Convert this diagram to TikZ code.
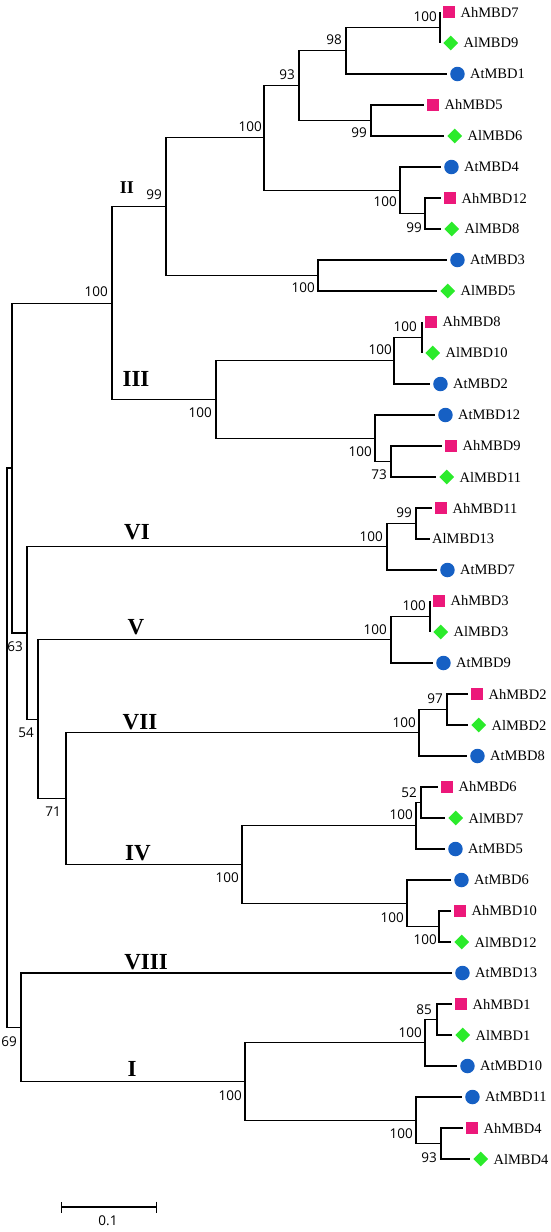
\documentclass[tikz,border=0pt]{standalone}
\usepackage{fontspec}
\setmainfont{Liberation Serif}
\newfontfamily\bootfont{Open Sans}
\usepackage{tikz}
\usepackage{xcolor}
\usetikzlibrary{shapes.geometric,positioning,arrows.meta}
\definecolor{ahpink}{RGB}{236,24,122}
\definecolor{algreen}{RGB}{43,235,43}
\definecolor{atblue}{RGB}{22,96,196}

\begin{document}
\begin{tikzpicture}[x=1pt,y=-1pt,
  branch/.style={line width=1.1pt},
  ahmark/.style={fill=ahpink, rectangle, inner sep=0pt, minimum size=12pt},
  almark/.style={fill=algreen, diamond, aspect=1, inner sep=0pt, minimum size=15pt},
  atmark/.style={fill=atblue, circle, inner sep=0pt, minimum size=14.5pt},
  tipname/.style={inner sep=0pt, font=\fontsize{14.5}{17}\selectfont},
  boot/.style={anchor=east, inner sep=0pt, font=\bootfont\fontsize{13.5}{15}\selectfont},
  clade/.style={inner sep=0pt, font=\bfseries\fontsize{23}{26}\selectfont}]
  \useasboundingbox (0,0) rectangle (550,1232);

  % Leaves: tip, marker, name
  \foreach \n/\x/\y/\m in {AhMBD7/440/12/ahmark, AlMBD9/440/43/almark, AtMBD1/447/74/atmark,
      AhMBD5/424/105/ahmark, AlMBD6/444/136/almark, AtMBD4/441/167/atmark, AhMBD12/441/198/ahmark,
      AlMBD8/441/229/almark, AtMBD3/447/260/atmark, AlMBD5/437/291/almark, AhMBD8/422/322/ahmark,
      AlMBD10/422/353/almark, AtMBD2/430/384/atmark, AtMBD12/435/415/atmark, AhMBD9/442/446/ahmark,
      AlMBD11/436/477/almark, AhMBD11/432/508/ahmark, AtMBD7/437/570/atmark, AhMBD3/430/601/ahmark,
      AlMBD3/430/632/almark, AtMBD9/433/663/atmark, AhMBD2/468/694/ahmark, AlMBD2/468/725/almark,
      AtMBD8/467/756/atmark, AhMBD6/438/787/ahmark, AlMBD7/445/818/almark, AtMBD5/445/849/atmark,
      AtMBD6/451/880/atmark, AhMBD10/451/911/ahmark, AlMBD12/451/942/almark, AtMBD13/452/973/atmark,
      AhMBD1/452/1004/ahmark, AlMBD1/452/1035/almark, AtMBD10/457/1066/atmark, AtMBD11/462/1097/atmark,
      AhMBD4/463/1128/ahmark, AlMBD4/470/1159/almark}{
    \coordinate (\n) at (\x,\y);
    \node[\m, right=3pt of \n] (\n-m) {};
    \node[tipname, right=5pt of \n-m] (\n-t) {\n};
  }
  \coordinate (AlMBD13) at (430,539);
  \node[tipname, right=2pt of AlMBD13] (AlMBD13-t) {AlMBD13};

  % Internal nodes
  \coordinate (a1) at (440,27.5);
  \coordinate (a2) at (346,50.75);
  \coordinate (a3) at (371,120.5);
  \coordinate (a4) at (299,85.6);
  \coordinate (a5) at (425,213.5);
  \coordinate (a6) at (400,190.25);
  \coordinate (a7) at (264,137.9);
  \coordinate (a8) at (318,275.5);
  \coordinate (a9) at (166,206.7);
  \coordinate (b1) at (422,337.5);
  \coordinate (b2) at (394,360.75);
  \coordinate (b3) at (391,461.5);
  \coordinate (b4) at (375,438.25);
  \coordinate (b5) at (216,399.5);
  \coordinate (b6) at (112,303.1);
  \coordinate (c1) at (416,523.5);
  \coordinate (c2) at (387,546.75);
  \coordinate (d1) at (430,616.5);
  \coordinate (d2) at (391,639.75);
  \coordinate (e1) at (447,709.5);
  \coordinate (e2) at (419,732.75);
  \coordinate (f1) at (421,802.5);
  \coordinate (f2) at (416,825.75);
  \coordinate (f3) at (439,926.5);
  \coordinate (f4) at (407,903.25);
  \coordinate (f5) at (242,864.5);
  \coordinate (g71) at (66,798.6);
  \coordinate (g54) at (38,719.2);
  \coordinate (g63) at (27,633);
  \coordinate (g12) at (12,468);
  \coordinate (h1) at (437,1019.5);
  \coordinate (h2) at (425,1042.75);
  \coordinate (h3) at (441,1143.5);
  \coordinate (h4) at (416,1120.25);
  \coordinate (h5) at (245,1081.5);
  \coordinate (h6) at (21,1027.25);
  \coordinate (root) at (7,747.6);

  % Clade II
  \draw[branch] (a1) |- (AhMBD7) (a1) |- (AlMBD9);
  \draw[branch] (a2) |- (a1) (a2) |- (AtMBD1);
  \draw[branch] (a3) |- (AhMBD5) (a3) |- (AlMBD6);
  \draw[branch] (a4) |- (a2) (a4) |- (a3);
  \draw[branch] (a5) |- (AhMBD12) (a5) |- (AlMBD8);
  \draw[branch] (a6) |- (AtMBD4) (a6) |- (a5);
  \draw[branch] (a7) |- (a4) (a7) |- (a6);
  \draw[branch] (a8) |- (AtMBD3) (a8) |- (AlMBD5);
  \draw[branch] (a9) |- (a7) (a9) |- (a8);
  % Clade III
  \draw[branch] (b1) |- (AhMBD8) (b1) |- (AlMBD10);
  \draw[branch] (b2) |- (b1) (b2) |- (AtMBD2);
  \draw[branch] (b3) |- (AhMBD9) (b3) |- (AlMBD11);
  \draw[branch] (b4) |- (AtMBD12) (b4) |- (b3);
  \draw[branch] (b5) |- (b2) (b5) |- (b4);
  \draw[branch] (b6) |- (a9) (b6) |- (b5);
  % Clades VI and V
  \draw[branch] (c1) |- (AhMBD11) (c1) |- (AlMBD13);
  \draw[branch] (c2) |- (c1) (c2) |- (AtMBD7);
  \draw[branch] (d1) |- (AhMBD3) (d1) |- (AlMBD3);
  \draw[branch] (d2) |- (d1) (d2) |- (AtMBD9);
  % Clades VII and IV
  \draw[branch] (e1) |- (AhMBD2) (e1) |- (AlMBD2);
  \draw[branch] (e2) |- (e1) (e2) |- (AtMBD8);
  \draw[branch] (f1) |- (AhMBD6) (f1) |- (AlMBD7);
  \draw[branch] (f2) |- (f1) (f2) |- (AtMBD5);
  \draw[branch] (f3) |- (AhMBD10) (f3) |- (AlMBD12);
  \draw[branch] (f4) |- (AtMBD6) (f4) |- (f3);
  \draw[branch] (f5) |- (f2) (f5) |- (f4);
  % Backbone
  \draw[branch] (g71) |- (e2) (g71) |- (f5);
  \draw[branch] (g54) |- (d2) (g54) |- (g71);
  \draw[branch] (g63) |- (c2) (g63) |- (g54);
  \draw[branch] (g12) |- (b6) (g12) |- (g63);
  % Clades VIII and I
  \draw[branch] (h1) |- (AhMBD1) (h1) |- (AlMBD1);
  \draw[branch] (h2) |- (h1) (h2) |- (AtMBD10);
  \draw[branch] (h3) |- (AhMBD4) (h3) |- (AlMBD4);
  \draw[branch] (h4) |- (AtMBD11) (h4) |- (h3);
  \draw[branch] (h5) |- (h2) (h5) |- (h4);
  \draw[branch] (h6) |- (AtMBD13) (h6) |- (h5);
  \draw[branch] (root) |- (g12) (root) |- (h6);

  % Bootstrap values
  \foreach \p/\x/\y/\v in {a1/437/17/100, a2/342/40/98, a4/295/75/93, a7/262/127/100,
      a3/367/133/99, a6/397/202/100, a5/422/228/99, a9/162/195/99, a8/315/288/100,
      b6/108/292/100, b1/417/327/100, b2/392/350/100, b5/212/413/100, b4/372/452/100,
      b3/387/475/73, c1/412/513/99, c2/383/537/100, d1/426/606/100, d2/387/630/100,
      g63/23/647/63, e1/443/699/97, e2/416/723/100, g54/34/733/54, f1/417/793/52,
      f2/413/815/100, g71/61/812/71, f5/239/878/100, f4/404/918/100, f3/437/940/100,
      h1/432/1010/85, h2/422/1033/100, h6/17/1042/69, h5/242/1096/100,
      h4/413/1134/100, h3/437/1158/93}
    \node[boot] (bs-\p) at (\x,\y) {\v};

  % Clade names
  \node[clade, font=\bfseries\fontsize{18}{20}\selectfont] (cl-II) at (127,188) {II};
  \node[clade] (cl-III) at (136,379) {III};
  \node[clade] (cl-VI) at (137,532) {VI};
  \node[clade] (cl-V) at (136,627) {V};
  \node[clade] (cl-VII) at (140,722) {VII};
  \node[clade] (cl-IV) at (138,853) {IV};
  \node[clade] (cl-VIII) at (146,962) {VIII};
  \node[clade] (cl-I) at (132,1069) {I};

  % Scale bar
  \coordinate (sb-l) at (61,1207);
  \coordinate (sb-r) at (157,1207);
  \draw[branch, {Bar[width=11pt]}-{Bar[width=11pt]}] (sb-l) -- (sb-r);
  \node[boot, anchor=center] (sb-t) at (108,1221) {0.1};
\end{tikzpicture}
\end{document}
